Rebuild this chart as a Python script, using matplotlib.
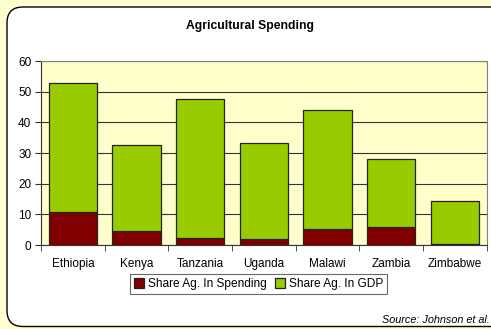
import numpy as np
import matplotlib
matplotlib.use('Agg')
import matplotlib.pyplot as plt
from matplotlib.patches import FancyBboxPatch

countries = ['Ethiopia', 'Kenya', 'Tanzania', 'Uganda', 'Malawi', 'Zambia', 'Zimbabwe']
spending = [10.7, 4.6, 2.2, 2.1, 5.2, 5.9, 0.3]
gdp = [42.0, 28.0, 45.3, 31.3, 39.0, 22.0, 14.0]
yticks = [0, 10, 20, 30, 40, 50, 60]

plt.rcParams['font.family'] = ['Liberation Sans', 'DejaVu Sans']

fig = plt.figure(figsize=(4.91, 3.29), dpi=100)
fig.patch.set_facecolor('#FFFFD0')

# white rounded chart panel, kept behind the axes
panel = FancyBboxPatch((0.07, 0.025), 5.1, 3.195,
                       boxstyle='round,pad=0,rounding_size=0.16',
                       transform=fig.dpi_scale_trans,
                       facecolor='white', edgecolor='black', linewidth=1.0,
                       zorder=-5)
fig.patches.append(panel)

ax = fig.add_axes([0.0835, 0.2553, 0.908, 0.559])
ax.set_facecolor('#FFFFCC')

x = np.arange(len(countries))
ax.bar(x, spending, width=0.76, color='#800000', edgecolor='#222222',
       linewidth=0.9, label='Share Ag. In Spending', zorder=3)
ax.bar(x, gdp, width=0.76, bottom=spending, color='#99CC00', edgecolor='#222222',
       linewidth=0.9, label='Share Ag. In GDP', zorder=3)

ax.set_xlim(-0.5, len(countries) - 0.5)
ax.set_ylim(0, 60)
ax.set_yticks(yticks)
ax.yaxis.grid(True, color='#333333', linewidth=0.8, zorder=1)
ax.set_axisbelow(True)
ax.set_xticks(x)
ax.set_xticklabels(countries)
ax.set_xticks(np.arange(-0.5, len(countries)), minor=True)
ax.tick_params(axis='x', which='major', length=0, pad=9, labelsize=8.5)
ax.tick_params(axis='x', which='minor', length=4, direction='out', color='#333333')
ax.tick_params(axis='y', length=4, direction='out', color='#333333', labelsize=8.5, pad=3)

for side in ['top', 'right']:
    ax.spines[side].set_color('#808080')
for side in ['left', 'bottom']:
    ax.spines[side].set_color('#333333')

fig.text(0.509, 0.921, 'Agricultural Spending', ha='center', va='center',
         fontsize=8.7, fontweight='bold')

leg = ax.legend(loc='upper center', bbox_to_anchor=(0.488, -0.158), ncol=2,
                fontsize=8.6, frameon=True, fancybox=False, handlelength=0.85,
                handleheight=0.85, handletextpad=0.3, columnspacing=0.7,
                borderpad=0.35, borderaxespad=0)
leg.get_frame().set_edgecolor('#444444')
leg.get_frame().set_linewidth(0.8)

fig.text(0.997, 0.012, 'Source: Johnson et al.', ha='right', va='bottom',
         fontsize=7.8, style='italic')

fig.savefig('out.png', dpi=100, facecolor=fig.get_facecolor())
